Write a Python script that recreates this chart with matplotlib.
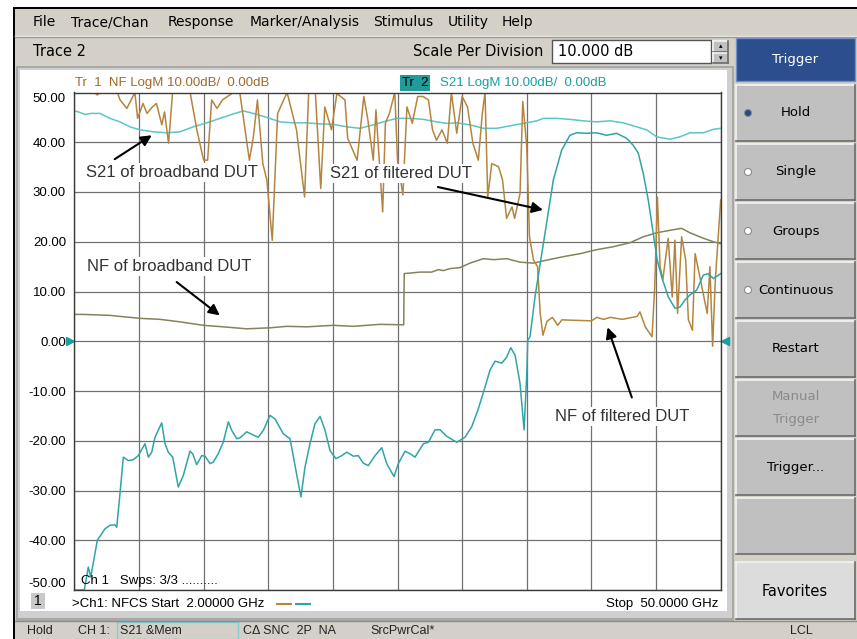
import numpy as np
import matplotlib.pyplot as plt
from matplotlib.patches import Rectangle, Circle
import matplotlib.transforms as mtransforms

W, H = 857, 639

# Tr 1 : NF of the filtered DUT (noisy trace), GHz / dB
nf_filt_ghz = [2.0, 3.5, 3.7, 3.9, 5.2, 5.4, 5.9, 6.5, 6.7, 7.1,
               7.4, 7.8, 8.1, 8.5, 8.7, 9.0, 9.3, 10.6, 11.1, 11.6,
               11.9, 12.2, 12.6, 13.0, 13.8, 14.3, 15.0, 15.3, 15.6, 16.0,
               16.3, 16.7, 17.1, 17.8, 18.5, 19.1, 19.4, 19.9, 20.3, 20.6,
               21.1, 21.5, 22.1, 22.3, 23.0, 23.5, 23.8, 24.2, 24.4, 24.9,
               25.1, 25.4, 25.8, 26.0, 26.4, 26.7, 27.1, 27.5, 27.9, 28.3,
               28.6, 28.9, 29.3, 29.7, 30.0, 30.4, 30.8, 31.2, 31.6, 32.0,
               32.3, 32.5, 32.7, 33.0, 33.5, 33.8, 34.1, 34.5, 34.7, 35.1,
               35.3, 35.6, 35.8, 36.1, 36.4, 36.6, 36.8, 37.1, 37.5, 37.9,
               38.2, 40.4, 40.8, 41.3, 41.8, 42.7, 43.8, 44.0, 44.4, 44.9,
               45.1, 45.3, 45.5, 45.7, 46.1, 46.4, 46.6, 46.8, 47.1, 47.4,
               47.6, 47.9, 48.1, 48.5, 49.0, 49.2, 49.4, 49.6, 50.0]
nf_filt_db = [52, 52, 49.5, 52, 52, 48.5, 46.8, 52, 44.8, 47.8,
              45.8, 47.1, 47.8, 43.5, 46.1, 39.8, 52, 52, 42.5, 36.4,
              36.4, 48.5, 46.8, 48.5, 52, 49.8, 36.4, 41.1, 48.5, 35.7,
              32.4, 20.3, 45.8, 52, 42.5, 29.0, 49.8, 52, 30.7, 47.1,
              42.5, 49.8, 48.5, 40.8, 36.4, 49.2, 44.5, 36.4, 46.5, 26.0,
              43.8, 45.8, 52, 36.4, 29.4, 47.1, 43.8, 49.2, 49.2, 48.5,
              42.5, 40.4, 42.5, 39.8, 52, 41.8, 49.2, 47.1, 39.8, 36.4,
              45.8, 52, 29.0, 35.7, 35.1, 32.4, 24.7, 27.0, 24.7, 29.7,
              48.2, 39.1, 21.0, 16.3, 15.0, 5.6, 1.2, 4.0, 4.8, 3.2,
              4.3, 4.1, 4.8, 4.4, 4.8, 4.4, 5.0, 5.9, 2.9, 0.9,
              10.9, 29.0, 15.0, 12.3, 20.7, 8.9, 20.3, 5.6, 21.0, 16.3,
              4.3, 2.2, 17.6, 12.3, 5.6, 15.0, -1.0, 12.3, 28.4]

# NF of the broadband DUT (memory trace)
nf_bb_ghz = [2.0, 2.6, 4.65, 6.13, 6.88, 8.37, 9.85, 11.58, 13.06, 14.80,
             16.53, 17.78, 19.26, 21.23, 22.72, 24.70, 26.46, 26.50, 26.93, 27.67,
             28.54, 29.04, 29.41, 29.90, 30.64, 31.38, 32.38, 33.12, 34.11, 35.10,
             36.09, 37.07, 38.31, 39.55, 40.78, 42.02, 43.26, 44.25, 45.24, 46.23,
             47.09, 47.72, 48.71, 49.46, 50.0]
nf_bb_db = [5.4, 5.4, 5.2, 4.8, 4.6, 4.4, 3.9, 3.2, 2.9, 2.5,
            2.7, 3.0, 2.9, 3.2, 3.0, 3.4, 3.3, 13.6, 13.7, 13.9,
            13.9, 14.4, 14.2, 14.6, 14.8, 15.7, 16.6, 16.4, 16.6, 15.9,
            15.7, 16.3, 17.0, 17.6, 18.4, 19.0, 19.8, 21.0, 21.8, 22.3,
            22.7, 21.8, 20.7, 20.0, 19.6]

# Tr 2 : S21 of the filtered DUT
s21_filt_ghz = [2.0, 2.74, 3.04, 3.22, 3.71, 4.03, 4.28, 4.65, 5.02, 5.15,
                5.39, 5.64, 6.01, 6.38, 6.75, 7.25, 7.50, 7.75, 7.99, 8.49,
                8.74, 8.98, 9.31, 9.72, 10.09, 10.59, 10.79, 11.09, 11.46, 11.71,
                12.08, 12.32, 12.69, 13.06, 13.44, 13.69, 14.06, 14.31, 14.80, 15.17,
                15.66, 16.04, 16.53, 16.90, 17.52, 18.02, 18.46, 18.83, 19.13, 19.50,
                19.87, 20.25, 20.62, 20.99, 21.43, 21.86, 22.23, 22.72, 23.09, 23.46,
                23.83, 24.33, 24.83, 25.20, 25.74, 26.06, 26.56, 26.93, 27.30, 27.92,
                28.29, 28.79, 29.16, 29.65, 30.40, 31.01, 31.51, 32.00, 32.50, 32.87,
                33.24, 33.74, 34.11, 34.41, 34.73, 35.10, 35.40, 35.60, 35.67, 35.84,
                36.21, 36.58, 37.07, 37.57, 38.19, 38.80, 39.30, 40.04, 40.78, 41.52,
                42.27, 43.01, 43.50, 43.88, 44.25, 44.62, 44.99, 45.29, 45.62, 46.11,
                46.61, 46.98, 47.35, 47.72, 48.22, 48.71, 49.08, 49.46, 50.0]
s21_filt_db = [-55, -55, -45.4, -47.4, -40.0, -38.7, -37.7, -37.0, -36.9, -37.4,
               -30.7, -23.3, -24.0, -23.8, -23.0, -20.6, -23.3, -22.3, -19.3, -16.4,
               -20.6, -22.3, -23.3, -29.3, -27.0, -22.1, -22.6, -24.8, -23.0, -23.1,
               -24.6, -24.3, -22.6, -20.3, -16.2, -17.9, -19.6, -19.4, -18.2, -18.7,
               -19.3, -17.9, -14.9, -15.6, -18.6, -19.6, -26.0, -31.3, -25.3, -20.6,
               -16.6, -15.1, -17.9, -22.0, -23.6, -23.0, -22.3, -23.1, -23.0, -24.5,
               -25.0, -23.0, -21.4, -24.6, -27.2, -24.6, -22.1, -22.6, -23.3, -20.6,
               -20.3, -17.8, -17.8, -19.1, -20.3, -19.3, -17.2, -13.6, -9.2, -5.8,
               -4.0, -4.4, -3.2, -1.3, -2.8, -8.5, -17.8, -6.5, 0.2, 0.9,
               8.9, 15.3, 23.7, 32.4, 38.4, 41.4, 41.9, 41.8, 41.9, 41.4,
               41.8, 40.8, 39.4, 37.8, 33.7, 28.4, 21.7, 16.3, 12.9, 8.9,
               6.6, 6.9, 8.3, 9.3, 10.3, 13.3, 13.6, 12.6, 13.6]

# S21 of the broadband DUT (memory trace)
s21_bb_ghz = [2.0, 2.30, 2.79, 3.29, 3.91, 4.65, 5.39, 6.13, 6.88, 7.87,
              8.86, 9.85, 10.84, 11.83, 12.82, 13.81, 14.55, 15.29, 16.29, 17.28,
              18.26, 19.26, 20.25, 21.23, 22.23, 23.22, 24.20, 24.95, 25.94, 26.93,
              27.92, 28.91, 29.65, 30.40, 31.38, 32.38, 33.37, 34.36, 35.35, 36.34,
              36.83, 37.82, 38.80, 39.80, 40.78, 41.78, 42.77, 43.76, 44.50, 45.24,
              46.23, 46.98, 47.72, 48.71, 49.46, 50.0]
s21_bb_db = [46.3, 46.1, 45.6, 45.8, 45.8, 44.8, 44.1, 43.1, 42.5, 42.1,
             41.9, 42.1, 43.1, 43.9, 44.8, 45.7, 46.3, 45.8, 45.0, 44.1,
             43.9, 43.9, 43.7, 43.6, 43.1, 42.8, 43.5, 44.1, 44.8, 44.8,
             44.6, 44.1, 43.8, 43.9, 43.5, 42.8, 42.8, 43.3, 43.8, 44.3,
             44.8, 44.8, 44.6, 44.3, 44.1, 44.3, 43.9, 43.1, 42.5, 41.1,
             40.6, 41.1, 41.9, 41.9, 42.6, 42.8]

ytick_vals = [-50, -40, -30, -20, -10, 0, 10, 20, 30, 40, 50]
ytick_labels = ["-50.00", "-40.00", "-30.00", "-20.00", "-10.00", "0.00",
                "10.00", "20.00", "30.00", "40.00", "50.00"]

menu_items = [("File", 33), ("Trace/Chan", 71), ("Response", 168),
              ("Marker/Analysis", 250), ("Stimulus", 373), ("Utility", 448), ("Help", 502)]
buttons = ["Hold", "Single", "Groups", "Continuous", "Restart", "Manual\nTrigger", "Trigger...", ""]

UI = ['DejaVu Sans']
ARIAL = ['Liberation Sans', 'DejaVu Sans']
NARROW = ['Liberation Sans', 'DejaVu Sans']

GRAY = '#d4d0c8'
BTN = '#c0c0c0'
C_NF = '#b5853f'
C_NFBB = '#86835a'
C_S21 = '#30a5a5'
C_S21BB = '#5cc5c5'

fig = plt.figure(figsize=(W / 100, H / 100), dpi=100)
ui = fig.add_axes([0, 0, 1, 1])
ui.set_xlim(0, W)
ui.set_ylim(H, 0)
ui.axis('off')


def box(x0, y0, x1, y1, fc, ec='none', lw=0):
    ui.add_patch(Rectangle((x0, y0), x1 - x0, y1 - y0, facecolor=fc, edgecolor=ec, lw=lw))


def bevel(x0, y0, x1, y1, fc):
    box(x0, y0, x1, y1, fc)
    ui.plot([x0, x1], [y0, y0], color='#f4f4f4', lw=1.2)
    ui.plot([x0, x0], [y0, y1], color='#f4f4f4', lw=1.2)
    ui.plot([x0, x1], [y1, y1], color='#6a6a6a', lw=1.2)
    ui.plot([x1, x1], [y0, y1], color='#6a6a6a', lw=1.2)


# window frame, menu and toolbar
box(13, 7, W, H, 'black')
box(15, 9, W, H, GRAY)
ui.plot([15, W], [35.5, 35.5], color='#f0f0f0', lw=1)
ui.plot([15, W], [36.5, 36.5], color='#9a9a9a', lw=1)
for name, x in menu_items:
    ui.text(x, 22, name, fontsize=10, family=UI, va='center', ha='left')
ui.text(33, 52, "Trace 2", fontsize=10.5, family=UI, va='center')
ui.text(543, 52, "Scale Per Division", fontsize=10.5, family=UI, va='center', ha='right')
box(552, 40, 711, 63, 'white', ec='#555555', lw=1)
ui.text(558, 52, "10.000 dB", fontsize=10.5, family=UI, va='center')
bevel(713, 41, 728, 51.5, BTN)
bevel(713, 52.5, 728, 63, BTN)
ui.text(720.5, 46, "\u25b4", fontsize=5, ha='center', va='center')
ui.text(720.5, 58, "\u25be", fontsize=5, ha='center', va='center')

# trace window
box(16, 66, 734, 621, '#a8a8a8')
box(18, 68, 732, 618, '#cfcfcf')
box(20, 70, 727, 611, 'white')
box(15, 621, W, H, GRAY)
ui.plot([15, W], [620.5, 620.5], color='#8c8c8c', lw=1)

# right soft-key panel
box(736, 38, 855, 81, '#2a4e8e', ec='#6f8fc8', lw=1)
ui.text(795, 60, "Trigger", color='white', fontsize=9.5, family=UI, ha='center', va='center')
for i, label in enumerate(buttons):
    top = 85 + i * 59
    bevel(736, top, 855, top + 56, BTN)
    col = '#8a8a8a' if label.startswith("Manual") else 'black'
    ui.text(796, top + 28, label, fontsize=9.5, family=UI, ha='center', va='center',
            color=col, linespacing=1.9)
    if i < 4:
        fc = '#24468a' if i == 0 else 'white'
        ui.add_patch(Circle((748, top + 28), 3.5, facecolor=fc, edgecolor='#8a8a8a', lw=0.8))
bevel(736, 562, 855, 619, '#dcdcdc')
ui.text(795, 592, "Favorites", fontsize=10.5, family=UI, ha='center', va='center')

# trace headers
ui.text(75, 83, "Tr  1  NF LogM 10.00dB/  0.00dB", color='#a06a28', fontsize=9.5,
        family=ARIAL, va='center')
ui.text(402, 83, "Tr  2", color='black', fontsize=9.5, family=ARIAL, va='center',
        bbox=dict(facecolor='#1f9c9a', edgecolor='none', pad=1.2))
ui.text(440, 83, "S21 LogM 10.00dB/  0.00dB", color='#1a9e9e', fontsize=9.5,
        family=ARIAL, va='center')

# footer of trace window
box(31, 593, 45, 609, '#c8c8c8')
ui.text(38, 601, "1", fontsize=10, family=ARIAL, ha='center', va='center')
ui.text(72, 604, ">Ch1: NFCS Start  2.00000 GHz", fontsize=9.5, family=ARIAL, va='center')
ui.plot([277, 291], [604, 604], color=C_NF, lw=1.5)
ui.plot([296, 310], [604, 604], color=C_S21, lw=1.5)
ui.text(718, 604, "Stop  50.0000 GHz", fontsize=9.5, family=ARIAL, va='center', ha='right')

# status bar
for txt, x in [("Hold", 27), ("CH 1:", 78), ("S21 &Mem", 120), ("C\u0394 SNC  2P  NA", 243),
               ("SrcPwrCal*", 370), ("LCL", 790)]:
    ui.text(x, 631, txt, fontsize=9, family=NARROW, va='center', color='#222222')
box(117, 622, 238, 639, 'none', ec='#7fcfcf', lw=1)

# measurement grid
x0, x1, y0, y1 = 74.3, 720.7, 92.5, 590.0
ax = fig.add_axes([x0 / W, 1 - y1 / H, (x1 - x0) / W, (y1 - y0) / H])
ax.set_xlim(2, 50)
ax.set_ylim(-50, 50)
ax.set_xticks(np.linspace(2, 50, 11))
ax.set_xticklabels([])
ax.set_yticks(ytick_vals)
ax.set_yticklabels(ytick_labels, fontsize=9.5, family=ARIAL)
ax.tick_params(length=0, pad=6)
ax.grid(True, color='#707070', lw=0.9)
ax.set_axisbelow(True)
for s in ax.spines.values():
    s.set_color('#3a3a3a')
    s.set_linewidth(1)
labels = ax.get_yticklabels()
labels[0].set_va('bottom')
labels[-1].set_va('top')

ax.plot(s21_bb_ghz, s21_bb_db, color=C_S21BB, lw=1.1)
ax.plot(nf_bb_ghz, nf_bb_db, color=C_NFBB, lw=1.1)
ax.plot(nf_filt_ghz, np.clip(nf_filt_db, -50, 50), color=C_NF, lw=1.1)
ax.plot(s21_filt_ghz, np.clip(s21_filt_db, -50, 50), color=C_S21, lw=1.1)

tr = mtransforms.blended_transform_factory(ax.transAxes, ax.transData)
ax.plot([-0.006], [0], marker='>', ms=6, color='#1a9e9e', transform=tr, clip_on=False)
ax.plot([1.006], [0], marker='<', ms=6, color='#1a9e9e', transform=tr, clip_on=False)

ax.text(2.5, -48.2, "Ch 1   Swps: 3/3 ..........", fontsize=9.5, family=ARIAL, va='center')

# annotations
arrow = dict(arrowstyle='-|>', color='black', lw=1.5, mutation_scale=16, shrinkA=0, shrinkB=0)
notes = [("S21 of broadband DUT", (2.87, 34.0), (7.75, 41.4), (5.0, 36.6)),
         ("NF of broadband DUT", (2.94, 15.1), (12.8, 5.2), (9.6, 11.9)),
         ("S21 of filtered DUT", (21.0, 33.8), (36.8, 26.4), (29.0, 31.0)),
         ("NF of filtered DUT", (37.7, -15.1), (41.6, 2.8), (43.4, -11.3))]
for txt, pos, head, tail in notes:
    ax.annotate('', xy=head, xytext=tail, arrowprops=arrow)
    ax.text(pos[0], pos[1], txt, fontsize=12, family=ARIAL, color='#333333',
            va='center', ha='left', bbox=dict(facecolor='white', edgecolor='none', pad=1.5))

fig.savefig('out.png', dpi=100)
